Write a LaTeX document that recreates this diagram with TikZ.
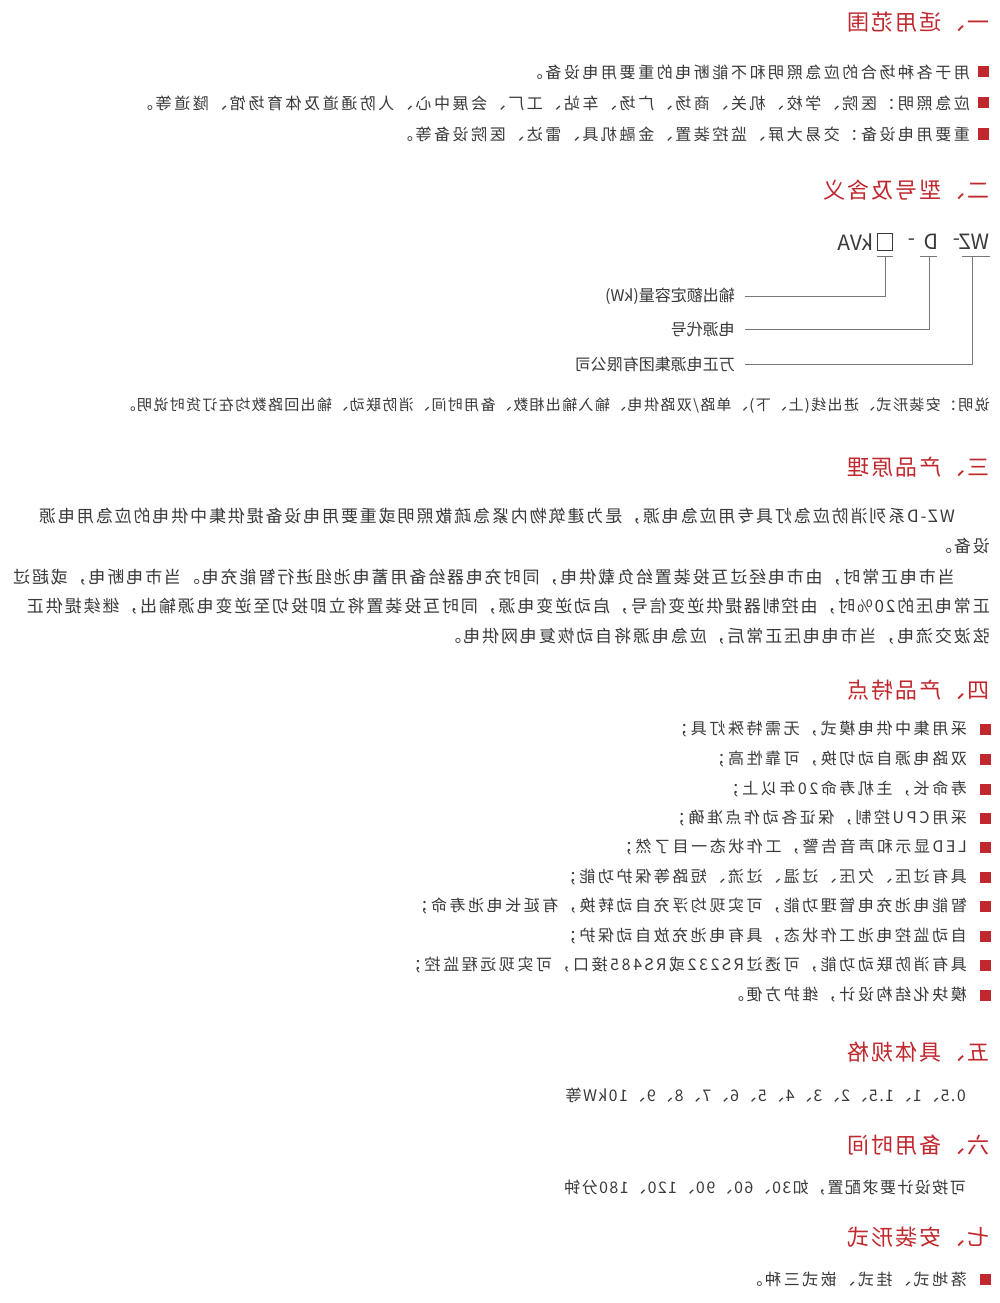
\documentclass[tikz,border=0pt]{standalone}
\usepackage{fontspec}
\setmainfont{Noto Sans CJK SC}
\definecolor{hred}{HTML}{C0282D}
\definecolor{tgray}{HTML}{3A3A3A}
\definecolor{lgray}{HTML}{777777}
\begin{document}
\begin{tikzpicture}[x=1pt,y=-1pt,
  head/.style={anchor=west,inner sep=0pt,text=hred,font=\fontsize{22}{24}\selectfont\addfontfeature{LetterSpace=9}},
  txt/.style={anchor=west,inner sep=0pt,text=tgray,font=\fontsize{16}{19}\selectfont\addfontfeature{LetterSpace=16}},
  ntxt/.style={anchor=west,inner sep=0pt,text=tgray,font=\fontsize{16}{19}\selectfont\addfontfeature{LetterSpace=9}},
  ptxt/.style={anchor=west,inner sep=0pt,text=tgray,font=\fontsize{17}{20}\selectfont\addfontfeature{LetterSpace=11}},
  bul/.style={fill=hred,minimum size=11pt,inner sep=0pt},
  mdl/.style={anchor=west,inner sep=0pt,text=tgray,font=\fontsize{21}{22}\selectfont},
  cn/.style={draw=lgray,line width=1pt}]
\useasboundingbox (0,0) rectangle (1000,1303);
\fill[white] (0,0) rectangle (1000,1303);
\begin{scope}[xshift=1000pt,xscale=-1,transform shape]
% section 1
\node[head] (h1) at (10,22) {一、适用范围};
\foreach \y/\t [count=\i] in {72/用于各种场合的应急照明和不能断电的重要用电设备。,
  103/{应急照明：医院、学校、机关、商场、广场、车站、工厂、会展中心、人防通道及体育场馆、隧道等。},
  134/{重要用电设备：交易大屏、监控装置、金融机具、雷达、医院设备等。}}{
  \node[bul] (b1\i) at (17,\y) {};
  \node[txt] (t1\i) at (30,\y) {\t};
}
% section 2
\node[head] (h2) at (10,190) {二、型号及含义};
\node[mdl] (wz) at (10,242) {WZ};
\node[mdl] (m1) at (39,242) {-};
\node[mdl] (dd) at (61,242) {D};
\node[mdl] (m2) at (84,242) {-};
\node[draw=tgray,line width=1pt,minimum width=15pt,minimum height=17pt,inner sep=0pt] (bx) at (115,242) {};
\node[mdl] (kva) at (126,242) {kVA};
\draw[cn] (10,256) -- (38,256);
\draw[cn] (63,256) -- (80,256);
\draw[cn] (107,256) -- (123,256);
\node[txt,font=\fontsize{16}{19}\selectfont] (l1) at (265,296) {输出额定容量(kW)};
\node[txt,font=\fontsize{16}{19}\selectfont] (l2) at (265,329) {电源代号};
\node[txt,font=\fontsize{16}{19}\selectfont] (l3) at (265,364) {万正电源集团有限公司};
\coordinate (c1) at (115,256); \coordinate (c2) at (71,256); \coordinate (c3) at (28,256);
\draw[cn] (c1) |- ([xshift=-10pt]l1.west);
\draw[cn] (c2) |- ([xshift=-10pt]l2.west);
\draw[cn] (c3) |- ([xshift=-10pt]l3.west);
\node[txt,font=\fontsize{15}{18}\selectfont\addfontfeature{LetterSpace=9}] (note) at (10,406) {说明：安装形式、进出线(上、下)、单路/双路供电、输入输出相数、备用时间、消防联动、输出回路数均在订货时说明。};
% section 3
\node[head] (h3) at (10,467) {三、产品原理};
\node[ptxt] (p1) at (45,516) {WZ-D系列消防应急灯具专用应急电源，是为建筑物内紧急疏散照明或重要用电设备提供集中供电的应急用电源};
\node[ptxt] (p2) at (10,546) {设备。};
\node[ptxt] (p3) at (45,577) {当市电正常时，由市电经过互投装置给负载供电，同时充电器给备用蓄电池组进行智能充电。当市电断电，或超过};
\node[ptxt] (p4) at (10,606) {正常电压的20\%时，由控制器提供逆变信号，启动逆变电源，同时互投装置将立即投切至逆变电源输出，继续提供正};
\node[ptxt] (p5) at (10,636) {弦波交流电，当市电电压正常后，应急电源将自动恢复电网供电。};
% section 4
\node[head] (h4) at (10,690) {四、产品特点};
\foreach \y/\t [count=\i] in {729/{采用集中供电模式，无需特殊灯具；},
  759/{双路电源自动切换，可靠性高；},
  789/{寿命长，主机寿命20年以上；},
  818/{采用CPU控制，保证各动作点准确；},
  847/{LED显示和声音告警，工作状态一目了然；},
  877/{具有过压、欠压、过温、过流、短路等保护功能；},
  906/{智能电池充电管理功能，可实现均浮充自动转换，有延长电池寿命；},
  936/{自动监控电池工作状态，具有电池充放自动保护；},
  965/{具有消防联动功能，可透过RS232或RS485接口，可实现远程监控；},
  995/{模块化结构设计，维护方便。}}{
  \node[bul] (b4\i) at (15,\y) {};
  \node[txt] (t4\i) at (33,\y) {\t};
}
% section 5
\node[head] (h5) at (10,1052) {五、具体规格};
\node[ntxt] (t5) at (34,1095) {0.5、1、1.5、2、3、4、5、6、7、8、9、10kW等};
% section 6
\node[head] (h6) at (10,1145) {六、备用时间};
\node[ntxt] (t6) at (34,1188) {可按设计要求配置，如30、60、90、120、180分钟};
% section 7
\node[head] (h7) at (10,1237) {七、安装形式};
\node[bul] (b7) at (15,1279) {};
\node[txt] (t7) at (33,1279) {落地式、挂式、嵌式三种。};
\end{scope}
\end{tikzpicture}
\end{document}
